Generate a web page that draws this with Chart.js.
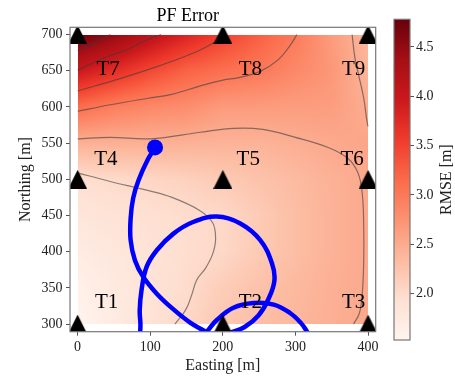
<!DOCTYPE html>
<html>
<head>
<meta charset="utf-8">
<script src="https://cdn.jsdelivr.net/npm/chart.js@4.4.0/dist/chart.umd.min.js"></script>
<style>
body { margin: 0; background: #fff; }
#wrap { position: relative; width: 455px; height: 381px; }
#main { position: absolute; left: 0; top: 0; }
#cbar { position: absolute; left: 380px; top: 0; }
</style>
</head>
<body>
<div id="wrap">
  <canvas id="main" width="455" height="381"></canvas>
  <canvas id="cbar" width="75" height="381"></canvas>
</div>
<script>
// RMSE field, rows follow gridNorth, columns follow gridEast
var gridEast = [0, 50, 100, 150, 200, 250, 300, 350, 400];
var gridNorth = [300, 350, 400, 450, 500, 550, 600, 650, 700];
var rmse = [
  [1.55, 1.72, 1.88, 2.04, 2.20, 2.30, 2.38, 2.46, 2.53],
  [1.62, 1.75, 1.88, 1.98, 2.15, 2.27, 2.36, 2.45, 2.52],
  [1.72, 1.80, 1.88, 1.96, 2.02, 2.18, 2.31, 2.43, 2.52],
  [1.83, 1.88, 1.93, 1.97, 2.02, 2.17, 2.31, 2.43, 2.52],
  [1.95, 2.00, 2.04, 2.10, 2.18, 2.26, 2.34, 2.44, 2.52],
  [2.45, 2.45, 2.45, 2.44, 2.42, 2.42, 2.47, 2.52, 2.56],
  [3.13, 2.95, 2.85, 2.80, 2.66, 2.66, 2.64, 2.64, 2.48],
  [3.98, 3.72, 3.45, 3.22, 3.10, 3.01, 2.85, 2.70, 2.40],
  [4.78, 4.50, 4.15, 3.82, 3.52, 3.25, 2.99, 2.65, 2.38]
];
var cbMin = 1.53, cbMax = 4.78;
var cbTicks = [2.0, 2.5, 3.0, 3.5, 4.0, 4.5];
var eastTicks = [0, 100, 200, 300, 400];
var northTicks = [300, 350, 400, 450, 500, 550, 600, 650, 700];

// transponders
var tNames = ['T1', 'T2', 'T3', 'T4', 'T5', 'T6', 'T7', 'T8', 'T9'];
var tEast = [0, 200, 400, 0, 200, 400, 0, 200, 400];
var tNorth = [300, 300, 300, 500, 500, 500, 700, 700, 700];
var labelEast = [40, 238, 380, 39, 235, 378, 42, 238, 380];
var labelNorth = [330, 330, 330, 528, 528, 528, 652, 652, 652];

// contour lines
var contour20 = [[0,509],[45,497],[95,485],[130,475],[168,457],[186,440],[190,418],[186,397],[176,377],[164,361],[157,340],[149,320],[134,300]];
var contour25 = [[0,556],[45,558],[100,556],[169,565],[215,570.5],[255,569],[300,558],[345,544],[372,529],[386,509],[392,480],[394,434],[394,388],[392,342],[388,315],[380,300]];
var contour25b = [[378,700],[382,667],[387,644],[394,612],[398.5,580],[400,573]];
var contour30 = [[0,594],[45,603],[97,612],[128,617],[169,629],[200,637],[222,640.5],[252,649.5],[276,665],[292,684],[302,700]];
var contour35 = [[0,622],[58,639],[113,657],[165,677],[193,692],[205,700]];
var contour40 = [[0,651],[22,661],[45,671],[68,679],[92,691],[115,700]];
var contour45 = [[0,678],[21.5,687.5],[45,700]];

// vehicle track, three visible pieces (clipped by the axes at the bottom)
var trackA = [[106.6,543.4],[97,528],[84,499],[76.5,474],[73,446],[73,416],[79,388],[90.5,365],[109,342],[130,322],[155,302],[173,291.5],[182,286]];
var trackB = [[86,286],[86.5,300],[85.5,319],[88,347],[95,379],[109,402],[132,425],[159,441],[191.6,448.5],[224,439],[251.5,416],[267.6,384],[271,360],[262,333],[249,312],[230,296],[210,288]];
var trackC = [[176,286],[180,292],[192,306],[214.6,322.5],[242,329],[270,327],[293,315],[308,301],[317,288]];
var trackStart = [106.6, 544];

var reds = [[255,245,240],[254,224,210],[252,187,161],[252,146,114],[251,106,74],[239,59,44],[203,24,29],[165,15,21],[103,0,13]];
function redsColor(t) {
  t = Math.max(0, Math.min(1, t));
  var p = t * (reds.length - 1);
  var i = Math.min(reds.length - 2, Math.floor(p));
  var f = p - i;
  var a = reds[i], b = reds[i + 1];
  return [a[0] + (b[0] - a[0]) * f, a[1] + (b[1] - a[1]) * f, a[2] + (b[2] - a[2]) * f];
}

function fieldAt(e, n) {
  var fx = (e - gridEast[0]) / (gridEast[1] - gridEast[0]);
  var fy = (n - gridNorth[0]) / (gridNorth[1] - gridNorth[0]);
  var i = Math.min(gridEast.length - 2, Math.max(0, Math.floor(fx)));
  var j = Math.min(gridNorth.length - 2, Math.max(0, Math.floor(fy)));
  var u = Math.max(0, Math.min(1, fx - i)), v = Math.max(0, Math.min(1, fy - j));
  return rmse[j][i] * (1 - u) * (1 - v) + rmse[j][i + 1] * u * (1 - v) +
         rmse[j + 1][i] * (1 - u) * v + rmse[j + 1][i + 1] * u * v;
}

function pts(arr) {
  return arr.map(function (p) { return {x: p[0], y: p[1]}; });
}

// triangle marker centred on its bounding box, like matplotlib '^'
var tri = document.createElement('canvas');
tri.width = 19; tri.height = 19;
var tctx = tri.getContext('2d');
tctx.fillStyle = '#000';
tctx.beginPath();
tctx.moveTo(9.5, 0); tctx.lineTo(19, 19); tctx.lineTo(0, 19); tctx.closePath();
tctx.fill();

Chart.defaults.font.family = "'Liberation Serif', 'DejaVu Serif', serif";
Chart.defaults.color = '#000';

var heatmapPlugin = {
  id: 'heatmap',
  beforeDatasetsDraw: function (chart) {
    var xs = chart.scales.x, ys = chart.scales.y, ctx = chart.ctx;
    var left = Math.round(xs.getPixelForValue(gridEast[0]));
    var right = Math.round(xs.getPixelForValue(gridEast[gridEast.length - 1]));
    var top = Math.round(ys.getPixelForValue(gridNorth[gridNorth.length - 1]));
    var bottom = Math.round(ys.getPixelForValue(gridNorth[0]));
    var w = right - left, h = bottom - top;
    var off = document.createElement('canvas');
    off.width = w; off.height = h;
    var octx = off.getContext('2d');
    var img = octx.createImageData(w, h);
    for (var py = 0; py < h; py++) {
      var n = ys.getValueForPixel(top + py + 0.5);
      for (var px = 0; px < w; px++) {
        var e = xs.getValueForPixel(left + px + 0.5);
        var c = redsColor((fieldAt(e, n) - cbMin) / (cbMax - cbMin));
        var k = (py * w + px) * 4;
        img.data[k] = c[0]; img.data[k + 1] = c[1]; img.data[k + 2] = c[2]; img.data[k + 3] = 255;
      }
    }
    octx.putImageData(img, 0, 0);
    ctx.drawImage(off, left, top);
  }
};

var overlayPlugin = {
  id: 'overlay',
  afterDatasetsDraw: function (chart) {
    var xs = chart.scales.x, ys = chart.scales.y, ctx = chart.ctx, a = chart.chartArea;
    ctx.save();
    ctx.fillStyle = '#000';
    ctx.font = "21px 'Liberation Serif', serif";
    ctx.textAlign = 'center';
    ctx.textBaseline = 'middle';
    for (var i = 0; i < tNames.length; i++) {
      ctx.fillText(tNames[i], xs.getPixelForValue(labelEast[i]), ys.getPixelForValue(labelNorth[i]));
    }
    ctx.strokeStyle = '#777';
    ctx.lineWidth = 1.2;
    ctx.strokeRect(a.left, a.top, a.right - a.left, a.bottom - a.top);
    ctx.restore();
  }
};

var contourStyle = {showLine: true, borderColor: 'rgba(60,60,60,0.6)', borderWidth: 1.2, pointRadius: 0, tension: 0.4, order: 4};
var trackStyle = {showLine: true, borderColor: '#0000ff', borderWidth: 4.5, pointRadius: 0, tension: 0.4, order: 3};
function withStyle(style, data) {
  var d = {data: pts(data)};
  for (var k in style) d[k] = style[k];
  return d;
}

var tickFont = {size: 14};

new Chart(document.getElementById('main'), {
  type: 'scatter',
  data: {
    datasets: [
      {data: tEast.map(function (x, i) { return {x: x, y: tNorth[i]}; }), pointStyle: tri, pointRadius: 9, order: 1},
      {data: [{x: trackStart[0], y: trackStart[1]}], pointRadius: 8, backgroundColor: '#0000ff', borderColor: '#0000ff', borderWidth: 0, order: 2},
      withStyle(trackStyle, trackA),
      withStyle(trackStyle, trackB),
      withStyle(trackStyle, trackC),
      withStyle(contourStyle, contour20),
      withStyle(contourStyle, contour25),
      withStyle(contourStyle, contour25b),
      withStyle(contourStyle, contour30),
      withStyle(contourStyle, contour35),
      withStyle(contourStyle, contour40),
      withStyle(contourStyle, contour45)
    ]
  },
  options: {
    responsive: false,
    animation: false,
    devicePixelRatio: 1,
    events: [],
    layout: {padding: {left: 0, right: 79.3, top: 0, bottom: 0}},
    plugins: {
      legend: {display: false},
      tooltip: {enabled: false},
      title: {display: true, text: 'PF Error', font: {size: 18, weight: 'normal'}, color: '#000', padding: {top: 5, bottom: 0.7}}
    },
    scales: {
      x: {
        type: 'linear', min: -10.5, max: 410.5,
        afterBuildTicks: function (s) { s.ticks = eastTicks.map(function (v) { return {value: v}; }); },
        afterFit: function (s) { s.height = 49.3; },
        ticks: {font: tickFont, padding: 3, color: '#222', callback: function (v) { return String(v); }},
        grid: {drawOnChartArea: false, drawTicks: true, tickLength: 4, color: '#555'},
        border: {display: false},
        title: {display: true, text: 'Easting [m]', font: {size: 16}, color: '#222', padding: {top: 0, bottom: 5.7}}
      },
      y: {
        type: 'linear', min: 289.5, max: 710,
        afterBuildTicks: function (s) { s.ticks = northTicks.map(function (v) { return {value: v}; }); },
        afterFit: function (s) { s.width = 70; },
        ticks: {font: tickFont, padding: 3.5, color: '#222', callback: function (v) { return String(v); }},
        grid: {drawOnChartArea: false, drawTicks: true, tickLength: 4, color: '#555'},
        border: {display: false},
        title: {display: true, text: 'Northing [m]', font: {size: 16}, color: '#222', padding: {top: 16.4, bottom: 0}}
      }
    }
  },
  plugins: [heatmapPlugin, overlayPlugin]
});

var colorbarPlugin = {
  id: 'colorbar',
  beforeDatasetsDraw: function (chart) {
    var ys = chart.scales.y, ctx = chart.ctx, a = chart.chartArea;
    var g = ctx.createLinearGradient(0, ys.getPixelForValue(cbMin), 0, ys.getPixelForValue(cbMax));
    for (var i = 0; i < reds.length; i++) {
      var c = reds[i];
      g.addColorStop(i / (reds.length - 1), 'rgb(' + c[0] + ',' + c[1] + ',' + c[2] + ')');
    }
    ctx.save();
    ctx.fillStyle = g;
    ctx.fillRect(a.left, a.top, a.right - a.left, a.bottom - a.top);
    ctx.strokeStyle = '#777';
    ctx.lineWidth = 1.2;
    ctx.strokeRect(a.left, a.top, a.right - a.left, a.bottom - a.top);
    ctx.translate(66.7, (a.top + a.bottom) / 2);
    ctx.rotate(-Math.PI / 2);
    ctx.fillStyle = '#222';
    ctx.font = "16px 'Liberation Serif', serif";
    ctx.textAlign = 'center';
    ctx.textBaseline = 'middle';
    ctx.fillText('RMSE [m]', 0, 0);
    ctx.restore();
  }
};

new Chart(document.getElementById('cbar'), {
  type: 'scatter',
  data: {datasets: []},
  options: {
    responsive: false,
    animation: false,
    devicePixelRatio: 1,
    events: [],
    layout: {padding: {left: 14, right: 0, top: 19.3, bottom: 41}},
    plugins: {legend: {display: false}, tooltip: {enabled: false}},
    scales: {
      x: {display: false, min: 0, max: 1},
      y: {
        position: 'right', min: cbMin, max: cbMax,
        afterBuildTicks: function (s) { s.ticks = cbTicks.map(function (v) { return {value: v}; }); },
        afterFit: function (s) { s.width = 45; },
        ticks: {font: tickFont, padding: 2, color: '#222', callback: function (v) { return v.toFixed(1); }},
        grid: {drawOnChartArea: false, drawTicks: true, tickLength: 4, color: '#555'},
        border: {display: false}
      }
    }
  },
  plugins: [colorbarPlugin]
});
</script>
</body>
</html>
